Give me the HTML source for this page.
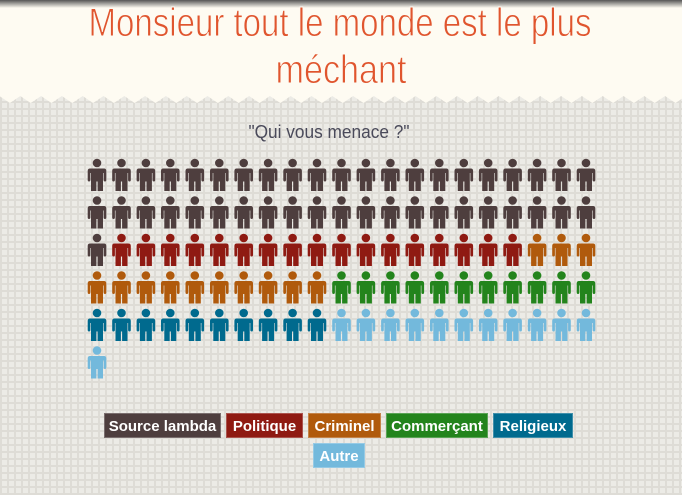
<!DOCTYPE html>
<html><head><meta charset="utf-8"><style>
html,body{margin:0;padding:0;width:682px;height:495px;overflow:hidden;}
body{position:relative;background-color:#ecebe6;
background-image:repeating-linear-gradient(0deg,#dedcd6 0 2px,transparent 2px 7px),repeating-linear-gradient(90deg,#dedcd6 0 2px,transparent 2px 7px);}
svg{position:absolute;left:0;top:0;}
.lg{position:absolute;height:25px;line-height:25px;color:#fff;font-family:"Liberation Sans",sans-serif;font-weight:bold;font-size:15px;text-align:center;box-sizing:border-box;border:1px solid rgba(255,255,255,0.25);}
</style></head><body>
<svg width="682" height="495" viewBox="0 0 682 495">
<defs>
<linearGradient id="sh" x1="0" y1="0" x2="0" y2="1"><stop offset="0" stop-color="#555"/><stop offset="1" stop-color="#fefbf2"/></linearGradient>
<g id="p">
<circle cx="0" cy="0" r="4.3"/>
<path d="M-7,5.5 H7 Q9.3,5.5 9.3,8 V17 Q9.3,18.5 8,18.5 Q6.6,18.5 6.6,17 V10 H6 V28 H0.6 V18.5 H-0.6 V28 H-6 V10 H-6.6 V17 Q-6.6,18.5 -8,18.5 Q-9.3,18.5 -9.3,17 V8 Q-9.3,5.5 -7,5.5 Z"/>
</g>
</defs>
<path id="hdr" fill="#fefbf2" d=""/>
<rect x="0" y="0" width="682" height="8" fill="url(#sh)"/>
<g font-family="Liberation Sans,sans-serif" font-size="40" fill="#e0552e" stroke="#fefbf2" stroke-width="0.9" paint-order="normal">
<text x="340" y="36" text-anchor="middle" textLength="503" lengthAdjust="spacingAndGlyphs">Monsieur tout le monde est le plus</text>
<text x="341" y="83" text-anchor="middle" textLength="131" lengthAdjust="spacingAndGlyphs">méchant</text>
</g>
<text x="329" y="138" text-anchor="middle" textLength="161" lengthAdjust="spacingAndGlyphs" font-family="Liberation Sans,sans-serif" font-size="18" fill="#4a4a5a">"Qui vous menace ?"</text>
<g id="icons"></g>
</svg>
<div class="lg" style="left:104px;top:413px;width:117px;background:#4e3e3e">Source lambda</div>
<div class="lg" style="left:226px;top:413px;width:77px;background:#8f1a12">Politique</div>
<div class="lg" style="left:308px;top:413px;width:73px;background:#b05a0c">Criminel</div>
<div class="lg" style="left:386px;top:413px;width:102px;background:#23841c">Commerçant</div>
<div class="lg" style="left:493px;top:413px;width:80px;background:#006a8e">Religieux</div>
<div class="lg" style="left:313px;top:443px;width:52px;background:#73b9dc">Autre</div>
<script>
var k=Math.ceil(682/20.8)+1;
var d="M0,0 H682 V103";
for(var i=k;i>=-1;i--){var px=20.3+i*20.8;d+=" L"+(px+10.4)+",103 L"+px+",96 L"+(px-10.4)+",103";}
d+=" L0,103 Z";
document.getElementById('hdr').setAttribute('d',d);
var cols=["#4e3e3e","#8f1a12","#b05a0c","#23841c","#006a8e","#73b9dc"];
var counts=[43,17,13,11,10,12];
var seq=[];counts.forEach(function(c,i){for(var j=0;j<c;j++)seq.push(cols[i]);});
var g=document.getElementById('icons'),h="";
seq.forEach(function(c,n){var r=Math.floor(n/21),cc=n%21;var x=97+cc*24.45,y=163+r*37.5;
h+='<use href="#p" x="'+x.toFixed(1)+'" y="'+y.toFixed(1)+'" fill="'+c+'"/>';});
g.innerHTML=h;
</script>
</body></html>
